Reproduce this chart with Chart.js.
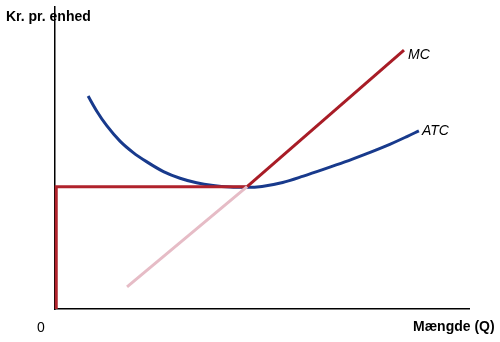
<!DOCTYPE html>
<html>
<head>
<meta charset="utf-8">
<script src="https://cdn.jsdelivr.net/npm/chart.js@4"></script>
<style>
  html, body { margin: 0; padding: 0; background: #fff; }
  #wrap { width: 500px; height: 342px; }
</style>
</head>
<body>
<div id="wrap"><canvas id="cost-graph"></canvas></div>
<script>
// quantity (Q) and kr per unit (0-10 scale on both axes)
const atcQ = [0.80, 1.01, 1.25, 1.57, 1.89, 2.21, 2.62, 3.02, 3.42, 3.82, 4.23, 4.63, 5.00, 5.50, 6.00, 6.50, 7.00, 7.50, 8.00, 8.50, 8.79];
const atcP = [7.05, 6.55, 6.07, 5.56, 5.18, 4.88, 4.55, 4.33, 4.18, 4.09, 4.04, 4.03, 4.06, 4.19, 4.40, 4.63, 4.87, 5.13, 5.40, 5.71, 5.90];
const mcLowQ = [1.74, 4.64];
const mcLowP = [0.73, 4.05];
const mcQ = [4.64, 8.43];
const mcP = [4.05, 8.57];
const minQ = [0.03, 0.03, 4.64];
const minP = [0.0, 4.05, 4.05];

const toPoints = (xs, ys) => xs.map((x, i) => ({x: x, y: ys[i]}));

const labelPlugin = {
    id: 'labels',
    afterDatasetsDraw(chart) {
        const ctx = chart.ctx;
        const xs = chart.scales.x, ys = chart.scales.y;
        ctx.save();
        ctx.fillStyle = '#000';
        ctx.textBaseline = 'middle';
        ctx.font = 'italic 14px "Liberation Sans", Arial, sans-serif';
        ctx.textAlign = 'left';
        ctx.fillText('MC', xs.getPixelForValue(mcQ[1]) + 4, ys.getPixelForValue(mcP[1]) + 5);
        ctx.fillText('ATC', xs.getPixelForValue(atcQ[atcQ.length - 1]) + 3, ys.getPixelForValue(atcP[atcP.length - 1]));
        ctx.font = 'bold 14px "Liberation Sans", Arial, sans-serif';
        ctx.fillText('Kr. pr. enhed', 6, 17);
        ctx.fillText('Mængde (Q)', 413, 327);
        ctx.font = '14px "Liberation Sans", Arial, sans-serif';
        ctx.fillText('0', 37, 328);
        ctx.restore();
    }
};

new Chart(document.getElementById('cost-graph'), {
    type: 'scatter',
    data: {
        datasets: [
            {data: toPoints(mcLowQ, mcLowP), showLine: true, borderColor: '#e6bcc6', borderWidth: 3, pointRadius: 0},
            {data: toPoints(minQ, minP), showLine: true, borderColor: '#b0222b', borderWidth: 3, pointRadius: 0},
            {data: toPoints(mcQ, mcP), showLine: true, borderColor: '#a81c26', borderWidth: 3, pointRadius: 0},
            {data: toPoints(atcQ, atcP), showLine: true, borderColor: '#183a8c', borderWidth: 3, pointRadius: 0, cubicInterpolationMode: 'monotone'}
        ]
    },
    options: {
        responsive: true,
        maintainAspectRatio: false,
        animation: false,
        layout: {padding: {left: 47, right: 31, top: 7, bottom: 25}},
        plugins: {legend: {display: false}, tooltip: {enabled: false}},
        elements: {line: {borderCapStyle: 'butt'}},
        clip: false,
        scales: {
            x: {
                type: 'linear', min: 0, max: 10,
                grid: {display: false},
                ticks: {display: false},
                border: {display: true, color: '#000', width: 1.5}
            },
            y: {
                type: 'linear', min: 0, max: 10,
                grid: {display: false},
                ticks: {display: false},
                border: {display: true, color: '#000', width: 1.5}
            }
        }
    },
    plugins: [labelPlugin]
});
</script>
</body>
</html>
